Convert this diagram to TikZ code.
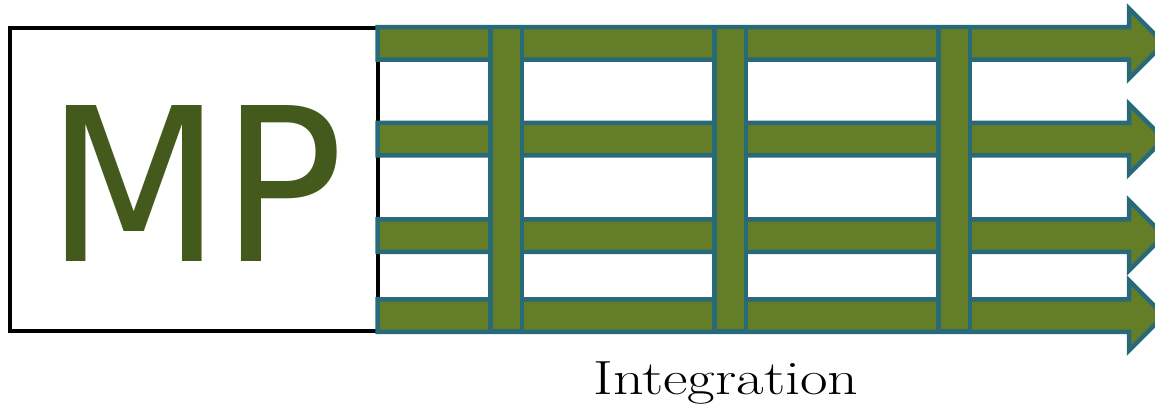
\documentclass[tikz,border=0pt]{standalone}
\usepackage{fontspec}
\newfontfamily\mpfont{DejaVu Sans}
\definecolor{olivefill}{HTML}{647D27}
\definecolor{tealline}{HTML}{28697A}
\definecolor{mpgreen}{HTML}{44591C}
\tikzset{
  flowarrow/.style={draw=tealline, fill=olivefill, line width=4.5pt, line join=miter},
  crossbar/.style={draw=tealline, fill=olivefill, line width=4.5pt},
  mpbox/.style={draw=black, line width=4pt, minimum width=368pt, minimum height=303pt, inner sep=0pt},
}
\begin{document}
\begin{tikzpicture}[x=1pt,y=-1pt]
\useasboundingbox (0,0) rectangle (1155,417);
\clip (0,0) rectangle (1155,417);
\node[mpbox] (mp) at (194,179.5) {};
\node[anchor=base, inner sep=0pt, text=mpgreen, font=\mpfont\fontsize{214}{214}\selectfont] (mptext) at (195,261) {\scalebox{0.95}[1]{MP}};
\foreach \c in {43.5,139,235.5,315.5}{
  \draw[flowarrow] (377.5,\c-16.25) -- (1129,\c-16.25) -- (1129,\c-35) -- (1164,\c) -- (1129,\c+35) -- (1129,\c+16.25) -- (377.5,\c+16.25) -- cycle;
}
\foreach \x in {506,730,954}{
  \draw[crossbar] (\x-15.75,27.25) rectangle (\x+15.75,330.75);
}
\node[anchor=base, inner sep=0pt, font=\fontsize{48}{48}\selectfont\addfontfeature{LetterSpace=7.5}] (integ) at (726,394) {\scalebox{1.25}[1]{Integration}};
\end{tikzpicture}
\end{document}
